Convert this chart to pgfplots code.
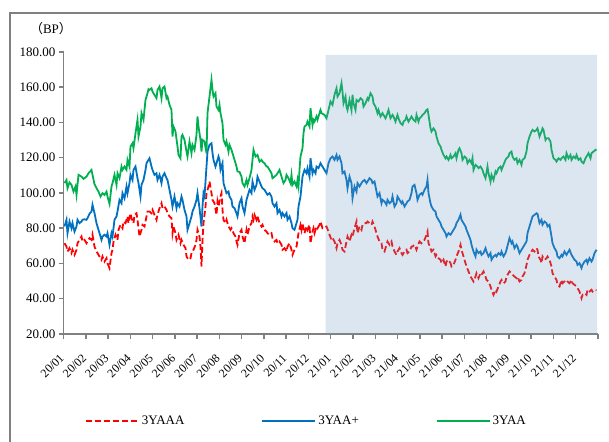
\documentclass[border=0pt]{standalone}
\usepackage{fontspec}
\setmainfont{Liberation Serif}
\newfontfamily\cjk{Noto Sans CJK SC}
\usepackage{pgfplots}
\usepackage{pgfplotstable}
\pgfplotsset{compat=1.18}
\definecolor{cgreen}{HTML}{00B050}
\definecolor{cblue}{HTML}{0070C0}
\definecolor{cred}{HTML}{FF0000}
\definecolor{axgray}{HTML}{808080}
\definecolor{shadecol}{RGB}{116,156,196}

\pgfplotstableread{
d v
1 105.6
3 107.4
4 102.7
6 106.0
8 104.6
10 100.8
12 103.7
13 99.0
15 110.3
18 109.3
20 108.0
23 109.3
25 111.2
28 113.1
29 110.3
31 105.0
33 102.7
35 100.8
37 98.0
39 99.9
41 98.9
43 100.8
44 98.0
46 93.8
48 103.7
49 105.6
51 110.3
53 104.6
54 111.2
56 108.4
58 115.0
59 113.1
61 115.0
63 113.1
64 118.8
66 115.0
67 126.4
69 128.2
70 125.4
72 133.9
74 141.5
75 132.0
77 137.7
78 145.3
80 141.5
82 152.8
84 156.6
85 158.9
86 158.5
88 159.4
89 157.5
93 153.8
94 158.5
96 160.4
98 153.8
99 159.4
101 160.4
103 153.8
104 154.7
106 150.0
108 147.1
109 132.0
110 137.7
112 134.9
114 126.4
115 121.6
117 119.7
118 132.0
119 133.0
121 130.1
123 123.5
124 120.7
126 129.2
128 122.6
129 127.3
131 124.5
133 133.0
134 143.4
135 137.7
137 130.1
138 123.5
139 130.1
141 129.2
143 122.6
144 145.3
146 154.7
148 164.2
149 158.5
150 154.7
152 156.6
153 149.0
155 147.1
156 150.0
157 145.3
159 139.6
160 130.1
162 127.3
163 129.2
165 123.5
166 127.3
168 124.5
169 122.6
171 118.8
173 115.0
174 112.2
176 112.0
178 109.3
179 105.6
181 103.7
183 107.4
184 104.6
186 108.4
188 113.1
189 118.8
190 124.5
192 120.7
194 121.6
196 117.8
198 118.8
199 117.8
201 116.9
203 115.0
204 115.0
206 113.1
208 111.2
209 108.4
211 109.3
213 110.3
214 111.2
216 113.1
218 109.3
219 107.4
220 105.6
222 107.4
223 110.3
225 108.4
227 105.6
228 110.3
229 104.6
231 106.5
233 103.7
234 107.4
235 103.7
236 113.1
237 120.7
239 125.4
240 133.9
241 137.7
243 138.6
244 140.5
246 137.7
247 148.1
249 138.6
250 141.5
251 140.5
253 143.4
254 141.5
256 145.3
257 147.1
258 145.3
261 144.3
263 142.4
265 147.1
267 151.9
269 150.0
271 155.7
273 159.4
274 154.7
276 156.6
278 162.3
279 157.5
280 150.9
282 154.7
283 149.0
284 147.1
286 152.8
288 147.1
289 155.7
290 150.9
292 147.1
293 152.8
295 151.9
297 153.8
299 152.8
300 149.0
302 150.9
304 153.8
305 152.8
307 156.6
309 154.7
310 150.9
312 149.0
314 145.3
315 147.1
317 143.4
319 145.3
320 144.3
322 142.4
324 145.3
325 147.1
327 142.4
329 144.3
330 143.4
332 140.5
334 144.3
335 142.4
337 139.6
339 138.6
340 140.5
342 141.5
343 143.4
345 140.5
347 142.4
348 143.4
350 141.5
352 140.5
353 144.3
355 140.5
356 142.4
358 143.4
359 144.3
361 145.3
363 147.1
364 147.5
365 144.3
367 136.7
368 134.9
370 136.7
372 134.9
373 132.0
375 128.2
377 126.4
378 124.5
380 121.6
382 119.7
383 120.7
385 118.8
387 121.6
388 119.7
390 120.7
392 122.6
393 119.7
395 124.5
396 125.4
398 122.6
399 118.8
401 120.7
403 119.7
404 116.9
406 118.8
408 116.9
409 119.7
410 113.1
412 116.0
414 115.0
415 114.1
417 115.0
419 113.1
420 111.2
422 108.4
424 115.0
425 111.2
427 106.5
428 110.3
430 107.4
432 112.2
433 111.2
435 114.1
437 115.0
438 113.1
440 116.0
442 118.8
443 119.7
445 120.7
446 122.6
448 123.5
449 120.7
451 118.8
453 119.7
454 116.9
456 118.8
458 116.0
459 118.8
461 119.7
463 123.5
464 128.2
466 132.0
468 134.9
469 135.8
471 134.9
473 135.8
474 136.7
476 132.0
478 134.9
479 136.7
480 135.8
482 130.1
483 131.1
485 131.1
487 129.2
488 124.5
490 119.7
492 118.8
493 117.8
495 119.7
497 118.8
498 119.7
500 120.7
502 118.8
503 122.6
505 119.7
507 121.6
508 118.8
510 120.7
512 119.7
513 121.6
515 118.8
517 119.7
518 117.8
520 116.9
522 119.7
523 120.7
525 122.6
527 119.7
528 122.6
530 123.5
532 124.5
533 124.1
}\greendata

\pgfplotstableread{
d v
1 81.0
3 84.8
4 77.2
6 83.8
8 80.0
9 82.9
11 78.1
13 81.0
14 84.8
16 82.9
18 83.8
19 84.8
21 85.1
23 84.8
24 85.7
26 88.2
28 89.5
29 93.3
31 88.6
33 82.9
34 81.0
36 77.2
38 73.4
39 75.3
41 76.3
43 75.3
44 77.2
46 70.6
48 77.2
49 75.3
51 84.8
53 86.7
54 89.5
56 96.1
58 94.2
59 99.9
61 97.0
63 103.7
64 99.9
66 105.6
67 110.3
69 107.4
70 113.1
72 115.0
74 108.4
75 105.6
77 98.0
78 104.6
80 107.4
82 113.1
83 116.9
85 118.8
86 119.7
88 115.0
89 113.1
91 110.3
93 111.2
94 107.4
96 110.3
98 105.6
99 109.3
101 111.2
103 108.4
104 107.4
106 101.8
108 96.1
109 92.3
111 98.0
113 91.4
114 94.2
116 92.3
118 98.0
119 96.1
121 90.4
123 86.7
124 79.1
126 82.9
128 86.7
129 89.5
131 92.3
133 96.1
134 99.9
136 91.4
138 81.0
139 92.3
140 99.9
141 98.0
143 115.0
144 123.5
146 127.3
148 128.2
149 122.6
150 118.8
152 115.0
153 116.9
155 120.7
156 118.8
157 113.1
159 116.9
160 105.6
162 101.8
163 99.9
165 100.8
166 98.0
168 96.1
169 92.3
171 91.4
173 88.5
174 86.7
176 94.2
178 97.0
179 92.3
181 88.6
183 96.1
184 98.0
186 101.8
188 99.9
189 106.5
191 101.8
193 104.6
194 109.3
196 106.5
198 103.7
199 102.7
201 101.8
203 99.9
204 99.0
206 99.9
208 98.0
209 94.2
211 92.3
213 94.2
214 88.6
216 90.4
218 86.7
219 88.6
221 86.7
223 88.6
224 84.8
226 86.7
228 82.9
229 80.0
231 79.1
233 82.9
234 84.8
235 92.3
237 98.0
238 103.7
239 109.3
241 113.1
243 111.2
244 114.1
246 109.3
247 119.7
249 111.2
250 113.1
252 111.2
253 115.0
255 114.1
257 116.9
258 115.9
263 111.2
265 116.9
267 119.7
269 120.7
271 118.8
273 121.6
274 118.8
276 120.7
278 116.9
279 111.2
281 112.2
283 107.4
284 102.7
286 109.3
288 105.6
289 97.0
291 103.7
293 100.8
294 105.6
296 103.7
298 105.6
299 106.5
301 107.4
303 105.6
304 106.5
306 108.4
308 107.4
309 105.6
311 106.5
313 100.8
314 98.0
316 99.9
318 94.2
319 96.1
321 95.2
323 93.3
324 96.1
326 94.2
328 95.2
329 98.0
331 92.3
333 94.2
334 98.0
336 96.1
338 94.2
339 95.2
341 92.3
343 94.2
344 95.2
346 96.1
348 99.9
349 103.7
351 104.6
353 99.9
354 96.1
356 99.0
358 99.9
359 99.0
361 101.8
363 103.7
364 107.4
365 99.9
367 94.2
368 92.3
370 90.4
372 89.5
373 86.7
375 84.8
377 82.9
378 81.0
380 79.1
382 77.2
383 75.3
385 77.2
387 76.3
388 77.2
390 79.1
392 81.0
393 82.9
395 84.8
397 87.7
398 84.8
400 82.9
402 81.0
403 79.1
405 76.3
407 73.4
408 70.6
410 66.8
412 64.0
413 67.8
415 65.9
417 66.8
418 64.9
420 65.9
422 68.7
423 66.8
425 64.0
427 65.9
428 62.1
430 64.0
432 64.9
433 64.0
435 65.9
437 64.9
438 66.8
440 64.0
442 65.9
443 67.8
446 74.4
448 71.5
449 72.5
451 68.7
453 70.6
454 69.6
456 65.9
458 67.8
459 68.7
461 70.6
463 72.5
464 77.2
466 81.0
468 84.8
469 86.7
471 87.6
473 88.5
474 88.2
476 82.9
478 84.8
479 82.0
481 83.8
483 82.9
484 81.0
486 82.0
488 75.3
489 71.5
491 68.7
493 66.8
494 64.0
496 63.0
498 64.9
499 64.0
501 66.8
503 64.9
504 65.9
506 67.8
508 64.9
509 64.0
511 62.1
513 61.1
514 59.2
516 60.2
518 57.4
519 59.2
521 61.1
523 62.1
524 60.2
526 63.0
528 61.1
529 62.1
531 65.9
533 67.8
}\bluedata

\pgfplotstableread{
d v
1 71.5
3 69.6
4 66.8
6 68.7
8 65.9
9 67.8
11 64.9
13 67.8
14 71.5
16 73.4
18 75.3
19 72.5
21 73.4
23 71.5
24 72.5
26 74.4
28 73.4
29 76.3
31 69.6
33 66.8
34 65.9
36 64.0
38 62.1
39 64.0
41 61.1
43 63.0
44 60.2
46 57.4
48 65.9
49 67.8
50 72.5
52 76.3
54 73.4
55 79.1
57 81.9
59 80.0
60 83.8
62 82.9
64 86.7
65 82.9
67 88.5
68 85.7
70 82.9
71 87.6
73 88.5
74 84.8
76 75.3
78 79.1
79 81.9
81 81.0
83 86.7
84 89.5
86 89.5
88 88.5
89 90.4
91 87.6
93 84.8
94 87.6
96 91.4
98 94.2
99 91.4
101 92.3
103 90.4
104 88.5
106 86.7
108 85.7
109 77.2
110 81.0
112 77.2
113 73.4
115 76.3
117 71.5
118 73.4
120 70.6
122 68.7
123 64.0
125 62.1
127 63.0
128 65.9
130 67.8
132 70.6
133 73.4
134 79.1
135 77.2
136 75.3
137 69.6
138 58.3
139 73.4
140 82.9
142 92.3
143 99.9
145 103.7
146 106.5
148 99.9
149 96.1
151 94.2
153 87.6
154 95.2
155 92.3
157 98.0
158 99.9
159 90.4
160 84.8
162 82.9
163 84.8
165 81.0
167 79.1
168 80.0
170 77.2
172 75.3
173 72.5
174 70.6
176 77.2
178 79.1
179 75.3
181 71.5
183 79.1
184 76.3
186 81.0
188 82.9
189 86.7
190 84.8
191 87.6
193 84.8
194 86.7
196 82.9
198 81.0
199 81.9
201 79.1
203 78.1
204 77.2
206 76.3
208 77.2
209 74.4
211 72.5
213 73.4
214 71.5
216 72.5
218 70.6
219 67.8
221 68.7
223 66.8
224 69.6
226 71.5
228 67.8
229 64.9
231 67.8
233 69.6
234 73.4
235 77.2
237 81.9
238 79.1
239 82.9
241 77.2
243 81.0
244 79.1
246 81.9
247 71.5
249 78.1
250 80.0
251 77.2
253 81.0
254 80.0
256 81.9
257 83.8
259 80.0
263 81.0
265 78.1
266 76.3
268 73.4
269 74.4
271 72.5
273 68.7
274 71.5
276 73.4
278 70.6
279 67.8
281 66.8
283 72.5
284 75.3
286 72.5
288 76.3
289 75.3
291 80.0
293 83.8
294 77.2
296 81.0
298 79.1
299 81.9
301 82.9
303 82.9
304 83.8
306 82.9
308 81.9
309 83.8
311 81.0
313 77.2
314 75.3
316 72.5
318 71.5
319 67.8
321 66.8
323 70.6
324 72.5
326 70.6
328 72.5
329 69.6
331 66.8
333 64.9
334 66.8
336 68.7
338 65.9
339 64.9
341 66.8
343 67.8
344 65.9
346 66.8
348 69.6
349 69.6
351 70.6
353 67.8
354 69.6
356 72.5
358 71.5
359 72.5
361 73.4
363 76.3
364 78.1
365 71.5
367 68.7
368 66.8
370 67.8
372 64.0
373 64.9
375 63.0
377 62.1
378 60.2
380 62.1
382 58.3
383 61.1
385 62.1
387 60.2
388 58.3
390 59.2
392 62.1
393 64.0
395 66.8
397 70.6
398 67.8
400 64.0
402 60.2
403 58.3
405 55.5
407 52.6
408 51.7
410 49.8
412 52.6
413 54.5
415 51.7
417 54.5
418 53.6
420 55.5
422 52.6
423 50.7
425 49.8
427 47.0
428 45.1
430 42.2
432 45.1
433 44.1
435 47.0
437 49.8
438 50.7
440 48.8
442 49.8
443 52.6
446 55.5
448 54.5
449 53.6
451 52.6
453 51.7
454 52.6
456 49.8
458 50.7
459 52.6
461 54.5
463 59.2
464 62.1
466 64.9
468 66.8
469 67.8
471 66.8
473 68.7
474 67.8
475 64.0
477 62.1
478 60.2
479 64.0
481 62.1
483 63.0
484 64.0
486 62.1
488 58.3
489 54.5
491 52.6
493 50.7
494 47.9
496 47.0
498 50.7
499 48.8
501 49.8
503 50.7
504 49.8
506 48.8
508 50.7
509 48.8
511 47.9
513 47.0
514 46.0
516 44.1
518 40.3
519 42.2
521 43.2
523 42.2
524 45.1
526 44.1
528 45.1
529 44.1
531 45.1
533 44.8
}\reddata

\begin{document}
\begin{tikzpicture}[x=1pt,y=1pt]
\useasboundingbox (0,0) rectangle (609,441);
\draw[axgray, line width=1.5pt] (10,428) rectangle (660,-30);
\node[font=\fontsize{13}{15}\selectfont, inner sep=0pt] at (51,412) {{\cjk （}BP{\cjk ）}};
\begin{axis}[
  at={(63.5pt,107pt)}, anchor=south west,
  scale only axis, width=534.5pt, height=282pt,
  xmin=0, xmax=534.5, ymin=20, ymax=180,
  axis lines=left, axis line style={-, axgray, line width=1.5pt},
  tick style={axgray, line width=1.5pt},
  tick align=outside, major tick length=5pt,
  xtick={0,22.27,44.54,66.81,89.08,111.35,133.62,155.89,178.16,200.43,222.7,244.97,267.24,289.51,311.78,334.05,356.32,378.59,400.86,423.13,445.4,467.67,489.94,512.21,534.48},
  xticklabels={20/01,20/02,20/03,20/04,20/05,20/06,20/07,20/08,20/09,20/10,20/11,20/12,21/01,21/02,21/03,21/04,21/05,21/06,21/07,21/08,21/09,21/10,21/11,21/12,{}},
  x tick label style={font=\fontsize{12}{14}\selectfont, rotate=45, anchor=east, inner sep=0pt, xshift=-13pt, yshift=-11pt},
  ytick={20,40,...,180},
  y tick label style={font=\fontsize{13}{15}\selectfont, inner sep=0pt, xshift=-3pt},
  yticklabel style={/pgf/number format/.cd, fixed, fixed zerofill, precision=2, assume math mode=true},
  legend columns=3,
  legend style={at={(0.04,-0.309)}, anchor=west, draw=none, fill=none, inner sep=0pt,
    font=\fontsize{13}{15}\selectfont,
    /tikz/every even column/.append style={column sep=75pt}},
  legend image code/.code={\draw[#1] (0pt,0pt) -- (53pt,0pt);},
  clip=false,
]
\addplot[cred, line width=1.8pt, dash pattern=on 6pt off 3pt] table[x=d,y=v] {\reddata};
\addlegendentry{3YAAA}
\addplot[cblue, line width=1.8pt] table[x=d,y=v] {\bluedata};
\addlegendentry{3YAA+}
\addplot[cgreen, line width=1.8pt] table[x=d,y=v] {\greendata};
\addlegendentry{3YAA}
\addplot[draw=none, fill=shadecol, fill opacity=0.25, forget plot] coordinates {(262,20) (262,178.3) (533.5,178.3) (533.5,20) (262,20)};
\end{axis}
\end{tikzpicture}
\end{document}
